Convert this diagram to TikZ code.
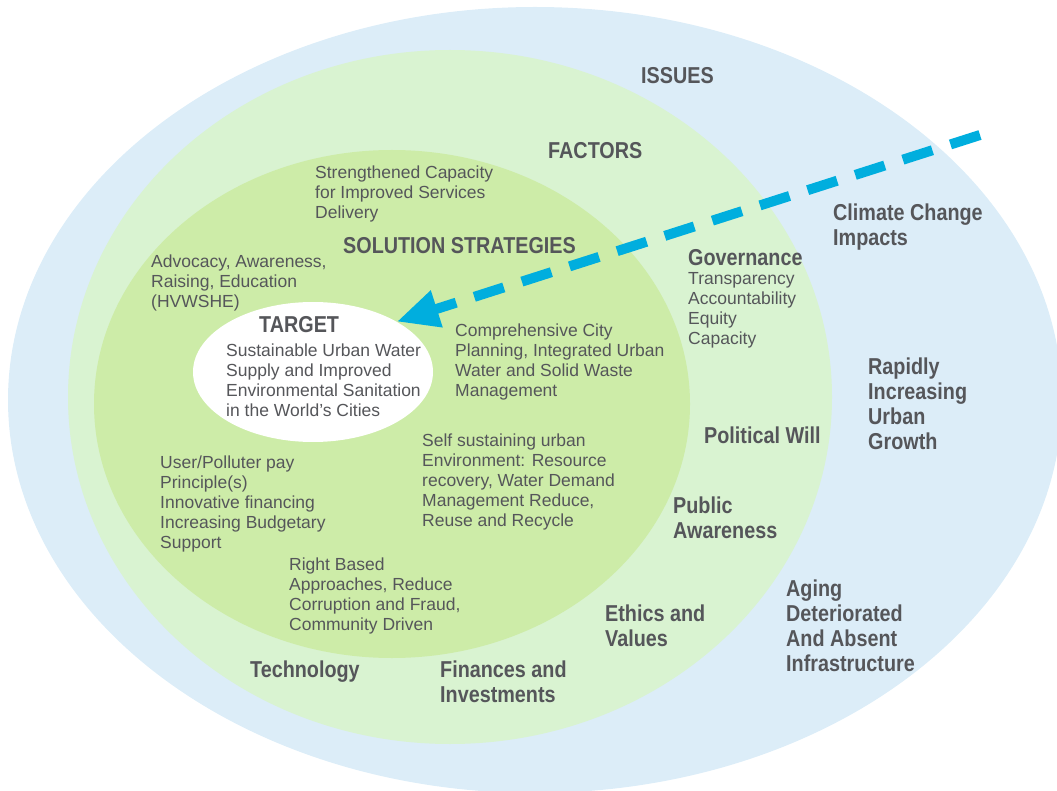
\documentclass[tikz,border=0pt]{standalone}
\usepackage{fontspec}
\setmainfont{Liberation Sans}[BoldFeatures={FakeStretch=0.86}]
\usetikzlibrary{arrows.meta,shapes.geometric}

\definecolor{issueblue}{HTML}{DCEDF8}
\definecolor{factorgreen}{HTML}{D9F3D1}
\definecolor{solutiongreen}{HTML}{CDECA8}
\definecolor{arrowcyan}{HTML}{00AEDE}
\definecolor{textgray}{HTML}{55565A}

\begin{document}
\begin{tikzpicture}[x=1pt, y=-1pt, line join=round,
    head/.style={anchor=north west, inner sep=0pt, align=left, text=textgray,
        font=\fontsize{23}{25}\selectfont\bfseries},
    body/.style={anchor=north west, inner sep=0pt, align=left, text=textgray,
        font=\fontsize{17.5}{20}\selectfont}]
    \useasboundingbox (0,0) rectangle (1057,791);

    % rings
    \fill[issueblue] (535,400) ellipse [x radius=527pt, y radius=393pt];
    \fill[factorgreen] (450,397) ellipse [x radius=382pt, y radius=347pt];
    \fill[solutiongreen] (392,404) ellipse [x radius=298pt, y radius=254pt];
    \node[ellipse, fill=white, minimum width=240pt, minimum height=140pt, inner sep=0pt] (target) at (313,372) {};

    \foreach \x/\y/\name/\txt in {
        641/67/issues/{ISSUES},
        548/142/factors/{FACTORS},
        343/237/strategies/{SOLUTION STRATEGIES},
        259/316/goal/{TARGET},
        688/249/governance/{Governance},
        833/204/climate/{Climate Change\\Impacts},
        704/427/political/{Political Will},
        868/358/growth/{Rapidly\\Increasing\\Urban\\Growth},
        673/497/public/{Public\\Awareness},
        786/580/aging/{Aging\\Deteriorated\\And Absent\\Infrastructure},
        605/605/ethics/{Ethics and\\Values},
        250/661/technology/{Technology},
        440/661/finances/{Finances and\\Investments}}
    {
        \node[head] (\name) at (\x,\y) {\txt};
    }

    \node[body] (capacity) at (315,166) {Strengthened Capacity\\for Improved Services\\Delivery};
    \node[body] (advocacy) at (151,255) {Advocacy, Awareness,\\Raising, Education\\(HVWSHE)};
    \node[body] (water) at (226,344) {Sustainable Urban Water\\Supply and Improved\\Environmental Sanitation\\in the World's Cities};
    \node[body] (planning) at (455,324) {Comprehensive City\\Planning, Integrated Urban\\Water and Solid Waste\\Management};
    \node[body] (selfsustain) at (422,434) {Self sustaining urban\\Environment: Resource\\recovery, Water Demand\\Management Reduce,\\Reuse and Recycle};
    \node[body] (financing) at (160,456) {User/Polluter pay\\Principle(s)\\Innovative financing\\Increasing Budgetary\\Support};
    \node[body] (rights) at (289,558) {Right Based\\Approaches, Reduce\\Corruption and Fraud,\\Community Driven};
    \node[body] (govitems) at (688,272) {Transparency\\Accountability\\Equity\\Capacity};

    % dashed pointer into the target
    \coordinate (src) at (980,135);
    \draw[line width=10pt, arrowcyan, dash pattern=on 31pt off 19pt,
        -{Triangle[length=42pt, width=36pt]}] (src) -- (target.31);
\end{tikzpicture}
\end{document}
